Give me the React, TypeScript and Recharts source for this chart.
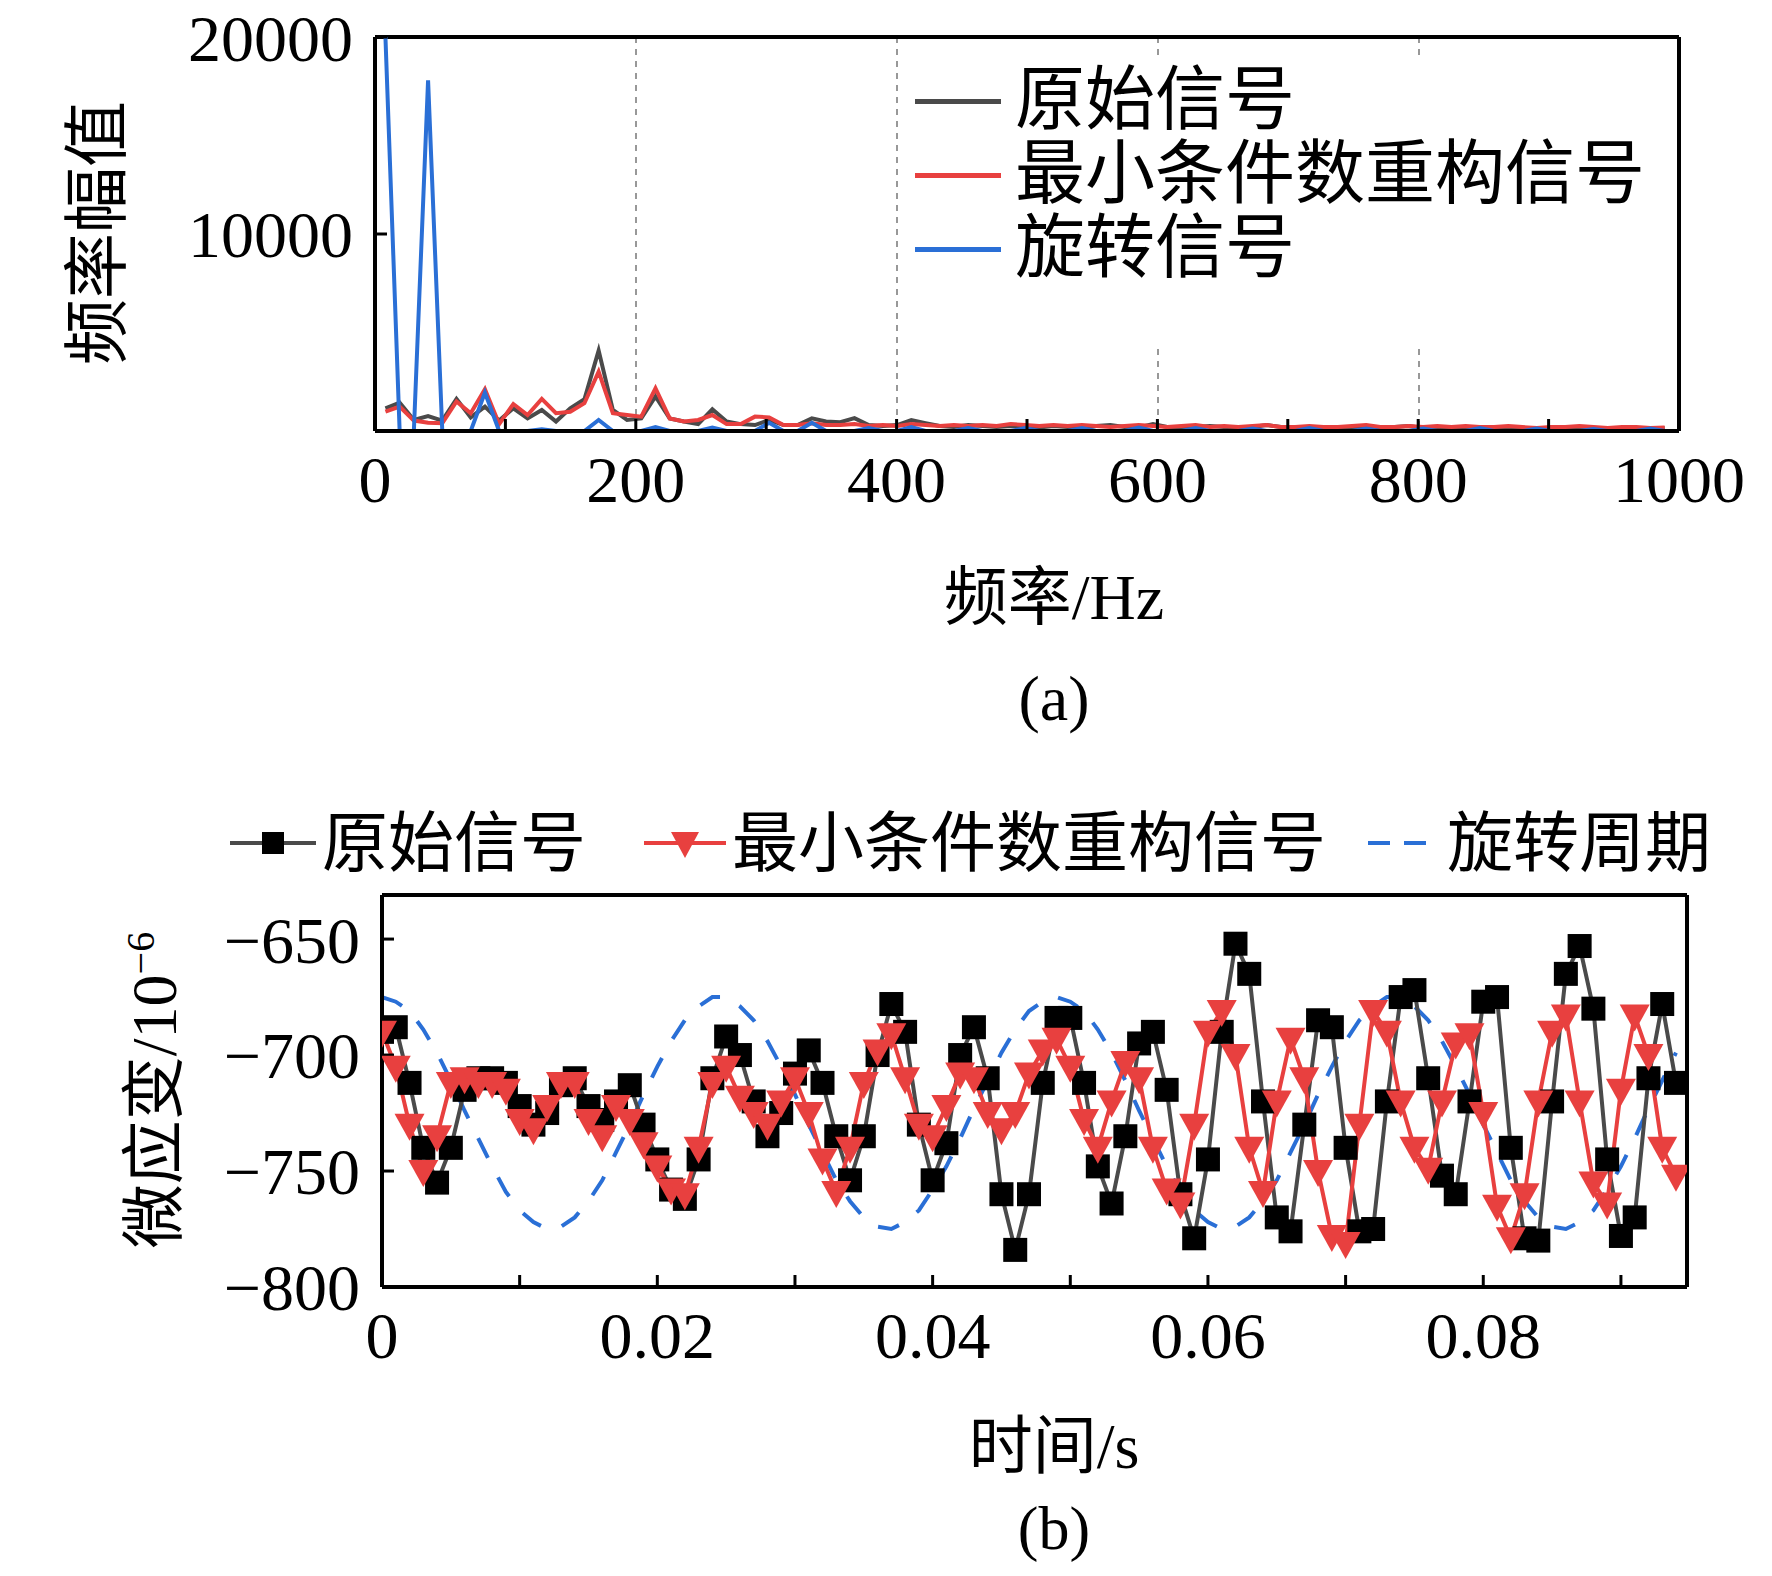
import React from "react";
import { LineChart, Line, XAxis, YAxis, CartesianGrid, ReferenceLine } from "recharts";

const FONT = "'Liberation Serif', 'Noto Sans CJK SC', serif";

// (a) spectrum, one point every ~11 Hz
const spectrumOriginal = [1150, 1440, 560, 760, 530, 1630, 690, 1240, 530, 1150, 640, 1070, 480, 1150, 1610, 4080, 1070, 560, 640, 1750, 640, 480, 350, 1100, 480, 350, 300, 560, 300, 300, 640, 480,
  450, 650, 300, 250, 300, 550, 400, 250, 200, 300, 250, 200, 250, 200, 180, 250, 200, 150, 250, 300, 200, 180, 350, 200, 150, 200, 250, 200, 150, 200, 300, 200, 150, 200, 180, 150, 200, 150, 150, 200, 250, 150, 150, 200, 150, 120, 150, 200, 150, 150, 120, 150, 180, 150, 120, 150, 150, 120, 150];
const spectrumReconstructed = [980, 1240, 530, 420, 390, 1500, 900, 2120, 350, 1370, 810, 1630, 900, 980, 1410, 3010, 900, 810, 730, 2170, 640, 480, 560, 810, 350, 350, 730, 690, 300, 300, 390, 300,
  300, 350, 250, 300, 250, 350, 300, 250, 300, 250, 300, 250, 350, 300, 250, 300, 250, 300, 250, 200, 250, 300, 250, 200, 250, 300, 200, 250, 200, 250, 300, 200, 200, 250, 200, 200, 250, 300, 200, 200, 250, 200, 250, 200, 250, 200, 200, 250, 200, 150, 200, 200, 250, 200, 150, 200, 200, 150, 180];
const spectrumRotation = [20000, 0, 0, 17800, 0, 0, 0, 1950, 0, 0, 0, 90, 0, 0, 0, 560, 0, 0, 0, 200, 0, 0, 0, 170, 0, 0, 0, 420, 0, 0, 420, 0,
  0, 0, 150, 0, 0, 200, 0, 0, 0, 150, 0, 0, 0, 150, 0, 0, 0, 150, 0, 0, 0, 180, 0, 0, 0, 150, 0, 0, 0, 120, 0, 0, 0, 150, 0, 0, 0, 120, 0, 0, 0, 120, 0, 0, 0, 150, 0, 0, 0, 120, 0, 0, 0, 100, 0, 0, 0, 120, 0];

// (b) time signals, one point every 1 ms
const strainOriginal = [-690, -688, -712, -740, -755, -740, -715, -710, -710, -712, -722, -730, -725, -713, -710, -722, -728, -720, -713, -730,
  -745, -758, -762, -745, -710, -692, -700, -720, -735, -725, -708, -698, -712, -735, -754, -735, -700, -678, -690, -730,
  -754, -738, -700, -688, -710, -760, -784, -760, -712, -684, -684, -712, -748, -764, -735, -695, -690, -715, -760, -779,
  -745, -690, -652, -665, -720, -770, -776, -730, -685, -688, -740, -776, -775, -720, -675, -672, -710, -752, -760, -720,
  -677, -675, -740, -779, -780, -720, -665, -653, -680, -745, -778, -770, -710, -678, -712];
const strainReconstructed = [-690, -705, -730, -750, -735, -712, -710, -712, -712, -715, -728, -732, -722, -712, -712, -728, -735, -722, -728, -738,
  -748, -758, -760, -740, -712, -705, -718, -725, -730, -720, -710, -725, -745, -759, -740, -712, -698, -691, -710, -730,
  -735, -722, -708, -710, -725, -732, -725, -708, -698, -693, -705, -728, -740, -720, -703, -710, -740, -758, -764, -730,
  -690, -681, -700, -740, -759, -720, -693, -710, -750, -778, -781, -730, -681, -690, -720, -740, -749, -720, -695, -691,
  -725, -765, -779, -760, -720, -690, -683, -720, -755, -764, -715, -683, -700, -740, -752];
const rotationPeriod = [-675, -677, -681, -689, -699, -711, -724, -736, -748, -759, -767, -772, -775, -774, -770, -763, -754, -742, -730, -717,
  -705, -694, -685, -679, -675, -675, -679, -685, -694, -705, -717, -730, -742, -754, -763, -770, -774, -775, -772, -767,
  -758, -748, -736, -723, -711, -699, -689, -681, -677, -675, -677, -681, -689, -699, -711, -724, -736, -748, -759, -767,
  -772, -775, -774, -770, -763, -754, -742, -730, -717, -705, -694, -685, -679, -675, -675, -679, -685, -694, -705, -717,
  -730, -742, -754, -763, -770, -774, -775, -772, -767, -758, -748, -736, -723, -711, -699];

const spectrumData = spectrumOriginal.map((v, i) => ({
  f: 8 + i * 10.9,
  a: v,
  b: spectrumReconstructed[i],
  c: spectrumRotation[i],
}));
const strainData = strainOriginal.map((v, i) => ({
  t: i * 0.001,
  a: v,
  b: strainReconstructed[i],
  c: rotationPeriod[i],
}));

const tickStyle = { fontFamily: FONT, fontSize: 66, fill: "#000" };
const minus = (v: number) => String(v).replace("-", "\u2212");
const axisLine = { stroke: "#000", strokeWidth: 4 };
const tickLine = { stroke: "#000", strokeWidth: 3 };

const Square = (p: any) =>
  p.cx == null ? null : <rect key={p.index} x={p.cx - 12} y={p.cy - 12} width={24} height={24} fill="#000" />;
const Tri = (p: any) =>
  p.cx == null ? null : (
    <path key={p.index} d={`M${p.cx - 15},${p.cy - 11} L${p.cx + 15},${p.cy - 11} L${p.cx},${p.cy + 16} Z`} fill="#e8403f" />
  );

const TopLegend = () => (
  <div style={{ background: "#fff", padding: "4px 10px 60px 10px", fontFamily: FONT, fontSize: 70, lineHeight: "74px" }}>
    {[
      ["原始信号", "#4a4a4a"],
      ["最小条件数重构信号", "#e8403f"],
      ["旋转信号", "#2a6fd6"],
    ].map(([t, c]) => (
      <div key={t} style={{ display: "flex", alignItems: "center" }}>
        <div style={{ width: 86, height: 5, background: c, marginRight: 14 }} />
        <span>{t}</span>
      </div>
    ))}
  </div>
);

const BottomLegend = () => (
  <svg width={1500} height={90} style={{ fontFamily: FONT }}>
    <line x1={0} y1={45} x2={86} y2={45} stroke="#4a4a4a" strokeWidth={4} />
    <rect x={32} y={34} width={22} height={22} fill="#000" />
    <text x={92} y={68} fontSize={66}>原始信号</text>
    <line x1={414} y1={45} x2={496} y2={45} stroke="#e8403f" strokeWidth={4} />
    <path d="M441,34 L469,34 L455,60 Z" fill="#e8403f" />
    <text x={502} y={68} fontSize={66}>最小条件数重构信号</text>
    <line x1={1138} y1={45} x2={1206} y2={45} stroke="#2a6fd6" strokeWidth={4} strokeDasharray="22 14" />
    <text x={1217} y={68} fontSize={66}>旋转周期</text>
  </svg>
);

export default function App() {
  return (
    <div style={{ position: "relative", width: 1772, height: 1576, margin: -8, background: "#fff", fontFamily: FONT }}>
      <div style={{ position: "absolute", left: 0, top: 0 }}>
        <LineChart width={1772} height={520} data={spectrumData} margin={{ top: 37, right: 93, left: 195, bottom: 0 }}>
          <CartesianGrid vertical horizontal={false} verticalPoints={[636, 897, 1158, 1419]} stroke="#777" strokeDasharray="6 6" strokeWidth={1.5} />
          <XAxis dataKey="f" type="number" domain={[0, 1000]} ticks={[0, 100, 200, 300, 400, 500, 600, 700, 800, 900, 1000]}
            tickFormatter={(v) => (v % 200 === 0 ? String(v) : "")} tick={tickStyle} tickSize={-12} tickMargin={36}
            axisLine={axisLine} tickLine={tickLine} height={89} />
          <YAxis domain={[0, 20000]} allowDataOverflow ticks={[0, 10000, 20000]} tickFormatter={(v) => (v === 0 ? "" : String(v))}
            tick={tickStyle} tickSize={-12} tickMargin={34} width={180} axisLine={axisLine} tickLine={tickLine} />
          <ReferenceLine y={20000} stroke="#000" strokeWidth={4} />
          <ReferenceLine x={1000} stroke="#000" strokeWidth={4} />
          <Line dataKey="a" stroke="#4a4a4a" strokeWidth={4} dot={false} isAnimationActive={false} />
          <Line dataKey="b" stroke="#e8403f" strokeWidth={4} dot={false} isAnimationActive={false} />
          <Line dataKey="c" stroke="#2a6fd6" strokeWidth={4} dot={false} isAnimationActive={false} />
        </LineChart>
      </div>
      <div style={{ position: "absolute", left: 905, top: 60 }}>
        <TopLegend />
      </div>
      <div style={{ position: "absolute", left: 91, top: 233, transform: "translate(-50%,-50%) rotate(-90deg)", fontSize: 66, whiteSpace: "nowrap" }}>频率幅值</div>
      <div style={{ position: "absolute", left: 1054, top: 591, transform: "translate(-50%,-50%)", fontSize: 64, whiteSpace: "nowrap" }}>频率/Hz</div>
      <div style={{ position: "absolute", left: 1054, top: 699, transform: "translate(-50%,-50%)", fontSize: 64 }}>(a)</div>

      <div style={{ position: "absolute", left: 230, top: 798 }}>
        <BottomLegend />
      </div>
      <div style={{ position: "absolute", left: 0, top: 860 }}>
        <LineChart width={1772} height={520} data={strainData} margin={{ top: 35, right: 85, left: 202, bottom: 0 }}>
          <XAxis dataKey="t" type="number" domain={[0, 0.0948]} allowDataOverflow ticks={[0, 0.01, 0.02, 0.03, 0.04, 0.05, 0.06, 0.07, 0.08, 0.09]}
            tickFormatter={(v) => (Math.round(v * 100) % 2 === 0 ? (v === 0 ? "0" : v.toFixed(2)) : "")} tick={tickStyle} tickSize={-12} tickMargin={36}
            axisLine={axisLine} tickLine={tickLine} height={93} />
          <YAxis domain={[-800, -631]} allowDataOverflow ticks={[-800, -750, -700, -650]} tickFormatter={minus}
            tick={tickStyle} tickSize={-12} tickMargin={34} width={180} axisLine={axisLine} tickLine={tickLine} />
          <ReferenceLine y={-631} stroke="#000" strokeWidth={4} />
          <ReferenceLine x={0.0948} stroke="#000" strokeWidth={4} />
          <Line dataKey="c" stroke="#2a6fd6" strokeWidth={4} strokeDasharray="22 22" dot={false} isAnimationActive={false} />
          <Line dataKey="a" stroke="#4a4a4a" strokeWidth={4} dot={<Square />} isAnimationActive={false} />
          <Line dataKey="b" stroke="#e8403f" strokeWidth={4} dot={<Tri />} isAnimationActive={false} />
        </LineChart>
      </div>
      <div style={{ position: "absolute", left: 148, top: 1090, transform: "translate(-50%,-50%) rotate(-90deg)", fontSize: 64, whiteSpace: "nowrap" }}>
        微应变/10<sup style={{ fontSize: 40 }}>−6</sup>
      </div>
      <div style={{ position: "absolute", left: 1054, top: 1440, transform: "translate(-50%,-50%)", fontSize: 64, whiteSpace: "nowrap" }}>时间/s</div>
      <div style={{ position: "absolute", left: 1054, top: 1528, transform: "translate(-50%,-50%)", fontSize: 62, lineHeight: "70px" }}>(b)</div>
    </div>
  );
}
